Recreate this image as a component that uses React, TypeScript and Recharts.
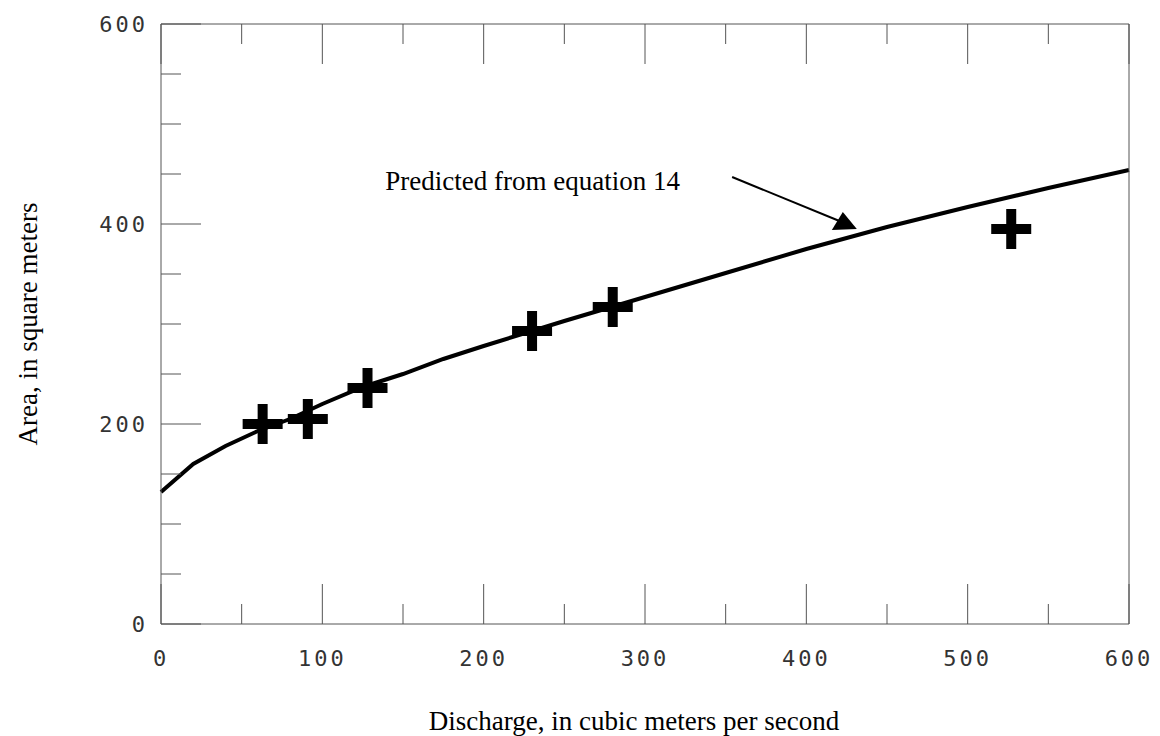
import React from "react";
import {
  ComposedChart,
  Line,
  Scatter,
  XAxis,
  YAxis,
  Label,
  ReferenceLine,
  ReferenceDot,
} from "recharts";

// predicted curve (equation 14)
const curveQ = [0, 20, 40, 60, 80, 100, 125, 150, 175, 200, 250, 300, 350, 400, 450, 500, 550, 600];
const curveA = [132, 160, 178, 193, 205, 220, 237, 250, 265, 278, 303, 327, 351, 375, 397, 417, 436, 454];

// measured points
const obsQ = [63, 91, 128, 230, 280, 527];
const obsA = [200, 205, 236, 293, 317, 395];

const xTicks = [0, 50, 100, 150, 200, 250, 300, 350, 400, 450, 500, 550, 600];
const yTicks = [0, 50, 100, 150, 200, 250, 300, 350, 400, 450, 500, 550, 600];
const xLabelled = [0, 100, 200, 300, 400, 500, 600];
const yLabelled = [0, 200, 400, 600];

const annotationText = "Predicted from equation 14";
const arrowFrom = { q: 354, a: 447 };
const arrowTo = { q: 422, a: 402 };
const textAt = { q: 139, a: 434 };

const curveData = curveQ.map((q, i) => ({ q, a: curveA[i] }));
const obsData = obsQ.map((q, i) => ({ q, a: obsA[i] }));

const AXIS = "#555";
const TICK_FONT = "'DejaVu Sans Mono', monospace";
const SERIF = "'Liberation Serif', 'Times New Roman', serif";

const BottomTick = (props: any) => {
  const { x, y, payload } = props;
  const v = payload.value;
  const len = v % 100 === 0 ? 40 : 20;
  return (
    <g>
      <line x1={x} y1={y} x2={x} y2={y - len} stroke={AXIS} strokeWidth={1} />
      {xLabelled.includes(v) && (
        <text
          x={x}
          y={y + 34}
          textAnchor="middle"
          dominantBaseline="central"
          fontFamily={TICK_FONT}
          fontSize={22}
          letterSpacing={3}
          fill="#333"
        >
          {v}
        </text>
      )}
    </g>
  );
};

const TopTick = (props: any) => {
  const { x, y, payload } = props;
  const len = payload.value % 100 === 0 ? 40 : 20;
  return <line x1={x} y1={y} x2={x} y2={y + len} stroke={AXIS} strokeWidth={1} />;
};

const LeftTick = (props: any) => {
  const { x, y, payload } = props;
  const v = payload.value;
  const len = v % 200 === 0 ? 40 : 20;
  return (
    <g>
      <line x1={x} y1={y} x2={x + len} y2={y} stroke={AXIS} strokeWidth={1} />
      {yLabelled.includes(v) && (
        <text
          x={x - 13}
          y={y}
          textAnchor="end"
          dominantBaseline="central"
          fontFamily={TICK_FONT}
          fontSize={22}
          letterSpacing={3}
          fill="#333"
        >
          {v}
        </text>
      )}
    </g>
  );
};

const RightTick = (props: any) => {
  const { x, y, payload } = props;
  const len = payload.value % 200 === 0 ? 40 : 20;
  return <line x1={x} y1={y} x2={x - len} y2={y} stroke={AXIS} strokeWidth={1} />;
};

const Cross = (props: any) => {
  const { cx, cy } = props;
  if (cx == null || cy == null) return null;
  const h = 20;
  const t = 5;
  return (
    <g fill="#000">
      <rect x={cx - h} y={cy - t} width={2 * h} height={2 * t} />
      <rect x={cx - t} y={cy - h} width={2 * t} height={2 * h} />
    </g>
  );
};

const Arrow = (props: any) => {
  const { x1, y1, x2, y2 } = props;
  return (
    <g>
      <line x1={x1} y1={y1} x2={x2} y2={y2} stroke="#000" strokeWidth={2} />
      <polygon
        points={`${x2 - 10},${y2 + 8} ${x2 + 15},${y2 + 7} ${x2 + 1},${y2 - 10}`}
        fill="#000"
      />
    </g>
  );
};

const Annotation = (props: any) => (
  <text x={props.cx} y={props.cy} fontFamily={SERIF} fontSize={27} fill="#000">
    {annotationText}
  </text>
);

export default function App() {
  return (
    <div style={{ position: "absolute", left: 0, top: 0, background: "#fff" }}>
      <ComposedChart
        width={1160}
        height={736}
        data={curveData}
        margin={{ top: 0, right: 0, bottom: 0, left: 0 }}
      >
        <XAxis
          xAxisId="b"
          dataKey="q"
          type="number"
          domain={[0, 600]}
          ticks={xTicks}
          interval={0}
          orientation="bottom"
          height={112}
          tickSize={0}
          tickMargin={0}
          tickLine={false}
          tick={<BottomTick />}
          axisLine={{ stroke: AXIS }}
        >
          <Label
            value="Discharge, in cubic meters per second"
            position="insideBottom"
            offset={6}
            dx={-11}
            style={{ fontFamily: SERIF, fontSize: 27, fill: "#000" }}
          />
        </XAxis>
        <XAxis
          xAxisId="t"
          dataKey="q"
          type="number"
          domain={[0, 600]}
          ticks={xTicks}
          interval={0}
          orientation="top"
          height={24}
          tickSize={0}
          tickMargin={0}
          tickLine={false}
          tick={<TopTick />}
          axisLine={{ stroke: AXIS }}
        />
        <YAxis
          yAxisId="l"
          type="number"
          domain={[0, 600]}
          ticks={yTicks}
          interval={0}
          orientation="left"
          width={161}
          tickSize={0}
          tickMargin={0}
          tickLine={false}
          tick={<LeftTick />}
          axisLine={{ stroke: AXIS }}
        >
          <Label
            value="Area, in square meters"
            angle={-90}
            position="insideLeft"
            offset={27}
            style={{ fontFamily: SERIF, fontSize: 27, fill: "#000", textAnchor: "middle" }}
          />
        </YAxis>
        <YAxis
          yAxisId="r"
          type="number"
          domain={[0, 600]}
          ticks={yTicks}
          interval={0}
          orientation="right"
          width={31}
          tickSize={0}
          tickMargin={0}
          tickLine={false}
          tick={<RightTick />}
          axisLine={{ stroke: AXIS }}
        />
        <Line
          xAxisId="b"
          yAxisId="l"
          type="linear"
          dataKey="a"
          stroke="#000"
          strokeWidth={4}
          dot={false}
          activeDot={false}
          isAnimationActive={false}
        />
        <Scatter
          xAxisId="b"
          yAxisId="l"
          data={obsData}
          dataKey="a"
          shape={<Cross />}
          isAnimationActive={false}
        />
        <ReferenceLine
          xAxisId="b"
          yAxisId="l"
          segment={[
            { x: arrowFrom.q, y: arrowFrom.a },
            { x: arrowTo.q, y: arrowTo.a },
          ]}
          shape={<Arrow />}
          ifOverflow="visible"
        />
        <ReferenceDot
          xAxisId="b"
          yAxisId="l"
          x={textAt.q}
          y={textAt.a}
          r={0}
          shape={<Annotation />}
          ifOverflow="visible"
        />
      </ComposedChart>
    </div>
  );
}
